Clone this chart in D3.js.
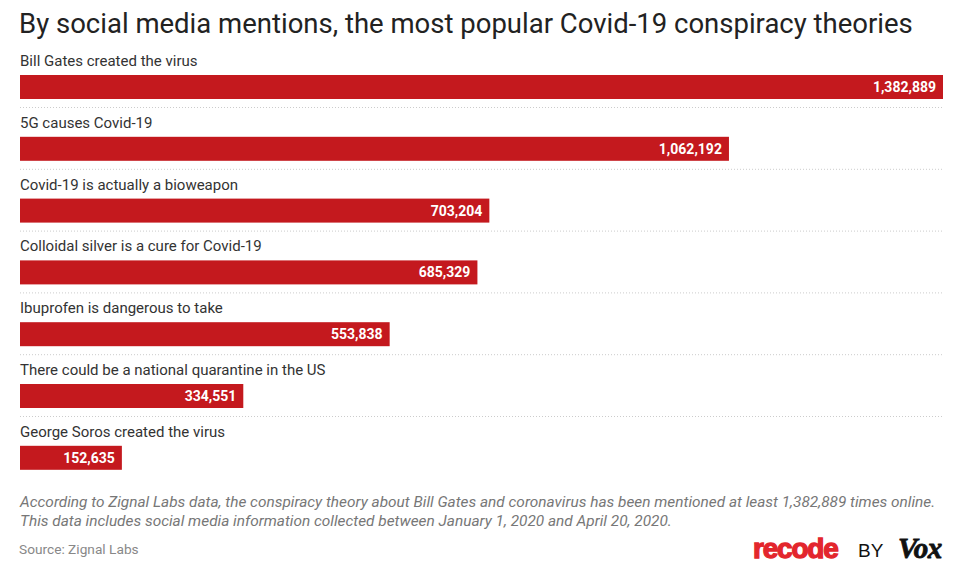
<!DOCTYPE html>
<html>
<head>
<meta charset="utf-8">
<script src="https://cdn.jsdelivr.net/npm/d3@7"></script>
<style>
  body { margin: 0; background: #fff; }
  svg { display: block; font-family: Roboto, "Noto Sans", sans-serif; }
</style>
</head>
<body>
<div class="chart"></div>
<script>
// Chart data
var theories = [
  "Bill Gates created the virus",
  "5G causes Covid-19",
  "Covid-19 is actually a bioweapon",
  "Colloidal silver is a cure for Covid-19",
  "Ibuprofen is dangerous to take",
  "There could be a national quarantine in the US",
  "George Soros created the virus"
];
var mentions = [1382889, 1062192, 703204, 685329, 553838, 334551, 152635];

var title = "By social media mentions, the most popular Covid-19 conspiracy theories";
var notes = [
  "According to Zignal Labs data, the conspiracy theory about Bill Gates and coronavirus has been mentioned at least 1,382,889 times online.",
  "This data includes social media information collected between January 1, 2020 and April 20, 2020."
];
var source = "Source: Zignal Labs";

var W = 955, H = 578;
var left = 20, right = 943;
var rowTop = 49, rowStep = 61.8, barOffset = 26, barH = 24;

var svg = d3.select("div.chart").append("svg")
    .attr("width", W)
    .attr("height", H);

// Title
svg.append("text")
    .attr("x", left - 1)
    .attr("y", 33)
    .attr("fill", "#222")
    .style("font-size", "27.5px")
    .text(title);

var x = d3.scaleLinear()
    .domain([0, d3.max(mentions)])
    .range([left, right]);

var y = d3.scaleBand()
    .domain(theories)
    .range([rowTop, rowTop + rowStep * theories.length])
    .padding(0);

var rows = svg.selectAll("g.row")
    .data(theories)
    .enter()
    .append("g")
    .attr("class", "row")
    .attr("transform", function(d) { return "translate(0," + y(d) + ")"; });

// label above bar
rows.append("text")
    .attr("x", left)
    .attr("y", 17)
    .attr("fill", "#333")
    .style("font-size", "15px")
    .text(function(d) { return d; });

rows.append("rect")
    .attr("x", left)
    .attr("y", barOffset)
    .attr("width", function(d, i) { return x(mentions[i]) - left; })
    .attr("height", barH)
    .attr("fill", "#c4191e");

rows.append("text")
    .attr("x", function(d, i) { return x(mentions[i]) - 7; })
    .attr("y", barOffset + barH / 2 + 5)
    .attr("text-anchor", "end")
    .attr("fill", "#fff")
    .style("font-size", "14px")
    .style("font-weight", "bold")
    .text(function(d, i) { return d3.format(",")(mentions[i]); });

// dotted separators (not after last row)
rows.filter(function(d, i) { return i < theories.length - 1; })
    .append("line")
    .attr("x1", left)
    .attr("x2", right)
    .attr("y1", barOffset + barH + 8.5)
    .attr("y2", barOffset + barH + 8.5)
    .attr("stroke", "#ccc")
    .attr("stroke-width", 1)
    .attr("stroke-dasharray", "1,2");

// Footnote
svg.selectAll("text.note")
    .data(notes)
    .enter()
    .append("text")
    .attr("class", "note")
    .attr("x", left)
    .attr("y", function(d, i) { return 507 + i * 19; })
    .attr("fill", "#777")
    .style("font-size", "15.4px")
    .style("font-style", "italic")
    .text(function(d) { return d; });

svg.append("text")
    .attr("x", left - 1)
    .attr("y", 554)
    .attr("fill", "#888")
    .style("font-size", "13.7px")
    .text(source);

// Logo
var logo = svg.append("g").attr("transform", "translate(753,558)");
logo.append("text")
    .attr("x", 0)
    .attr("y", 0)
    .attr("fill", "#e3262d")
    .attr("stroke", "#e3262d")
    .attr("stroke-width", 1.3)
    .style("font-size", "28px")
    .style("font-weight", "900")
    .style("letter-spacing", "-1.2px")
    .style("font-family", "'Liberation Sans', Arial, sans-serif")
    .text("recode");
logo.append("text")
    .attr("x", 105)
    .attr("y", -1)
    .attr("fill", "#111")
    .style("font-size", "19px")
    .style("font-family", "'Liberation Sans', Arial, sans-serif")
    .text("BY");
logo.append("text")
    .attr("x", 145)
    .attr("y", 0)
    .attr("fill", "#111")
    .attr("stroke", "#111")
    .attr("stroke-width", 0.8)
    .style("font-size", "29px")
    .style("font-weight", "bold")
    .style("font-style", "italic")
    .style("letter-spacing", "-0.5px")
    .style("font-family", "'Liberation Serif', 'DejaVu Serif', serif")
    .text("Vox");
</script>
</body>
</html>
